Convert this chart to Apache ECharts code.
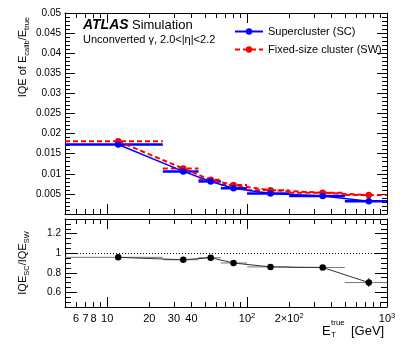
<!DOCTYPE html>
<html>
<head>
<meta charset="utf-8">
<script src="https://cdn.jsdelivr.net/npm/echarts@6/dist/echarts.min.js"></script>
<style>
  html, body { margin: 0; padding: 0; background: #fff; }
  #chart { width: 407px; height: 344px; }
</style>
</head>
<body>
<div id="chart"></div>
<script>
// bins in E_T^true [GeV]
const binEdges = [5, 25, 45, 65, 100, 200, 500, 1000]
const etPoints = [12, 35, 55, 80, 147, 347, 741]
// IQE of E_calib/E_true
const iqeSC = [0.0173, 0.0106, 0.0081, 0.0064, 0.0051, 0.0045, 0.0032]
const iqeSW = [0.0181, 0.0113, 0.0085, 0.0072, 0.0059, 0.0053, 0.0047]
// ratio SC / SW
const ratio = [0.958, 0.933, 0.954, 0.900, 0.860, 0.854, 0.700]
const ratioErr = [0.008, 0.008, 0.008, 0.008, 0.008, 0.01, 0.045]
// tick labels
const xLabelValues = [6, 7, 8, 10, 20, 30, 40, 100, 200, 1000]
const xMajorTicks = [10, 100, 1000]
const xMinorTicks = [5, 6, 7, 8, 9, 20, 30, 40, 50, 60, 70, 80, 90, 200, 300, 400, 500, 600, 700, 800, 900]
const yRatioLabels = [0.6, 0.8, 1, 1.2]

const FONT = 'Liberation Sans'
const BLUE = '#0000ff'
const RED = '#ff0000'
const lg = v => Math.log10(v)
const XMIN = lg(5)
const XMAX = 3

function xAxisDef (grid, pos, major, labels) {
  return {
    type: 'value',
    gridIndex: grid,
    position: pos,
    min: XMIN,
    max: XMAX,
    splitLine: { show: false },
    axisLine: { show: major, onZero: false, lineStyle: { color: '#000', width: 1 } },
    axisTick: {
      show: true,
      inside: true,
      length: major ? 10 : 5,
      lineStyle: { color: '#000', width: 1 },
      customValues: (major ? xMajorTicks : xMinorTicks).map(lg)
    },
    axisLabel: labels ? {
      show: true,
      customValues: xLabelValues.map(lg),
      margin: 5,
      color: '#000',
      fontFamily: FONT,
      fontSize: 11,
      formatter: function (v) {
        const n = Math.round(Math.pow(10, v))
        if (n === 100) return '10{s|2}'
        if (n === 200) return '2×10{s|2}'
        if (n === 1000) return '10{s|3}'
        return String(n)
      },
      rich: {
        s: { fontSize: 7.5, fontFamily: FONT, color: '#000', verticalAlign: 'top' }
      },
      lineHeight: 14
    } : { show: false }
  }
}

function binBars (values, lo, hi) {
  return values.map((v, i) => [lg(lo[i]), lg(hi[i]), v])
}
const binLo = binEdges.slice(0, -1)
const binHi = binEdges.slice(1)

function barRender (color, width, dash) {
  return function (params, api) {
    const p1 = api.coord([api.value(0), api.value(2)])
    const p2 = api.coord([api.value(1), api.value(2)])
    return {
      type: 'line',
      shape: { x1: p1[0], y1: p1[1], x2: p2[0], y2: p2[1] },
      style: { stroke: color, lineWidth: width, lineDash: dash }
    }
  }
}

const chart = echarts.init(document.getElementById('chart'), null, { renderer: 'canvas' })
chart.setOption({
  animation: false,
  backgroundColor: '#fff',
  grid: [
    { left: 65, width: 322, top: 13, height: 201 },
    { left: 65, width: 322, top: 219, height: 88 }
  ],
  legend: {
    orient: 'vertical',
    left: 229,
    top: 21,
    itemWidth: 28,
    itemHeight: 8,
    itemGap: 7,
    textStyle: { fontFamily: FONT, fontSize: 11, color: '#000' },
    data: ['Supercluster (SC)', 'Fixed-size cluster (SW)']
  },
  xAxis: [
    xAxisDef(0, 'bottom', true, false),
    xAxisDef(0, 'bottom', false, false),
    xAxisDef(0, 'top', true, false),
    xAxisDef(0, 'top', false, false),
    xAxisDef(1, 'bottom', true, true),
    xAxisDef(1, 'bottom', false, false),
    xAxisDef(1, 'top', true, false),
    xAxisDef(1, 'top', false, false)
  ],
  yAxis: [
    {
      type: 'value', gridIndex: 0, position: 'left', min: 0, max: 0.05, interval: 0.005,
      splitLine: { show: false },
      axisLine: { show: true, lineStyle: { color: '#000' } },
      axisTick: { inside: true, length: 10, lineStyle: { color: '#000' } },
      minorTick: { show: true, splitNumber: 5, length: 5, lineStyle: { color: '#000' } },
      axisLabel: {
        margin: 4, color: '#000', fontFamily: FONT, fontSize: 10,
        formatter: v => v === 0 ? '' : String(+v.toFixed(3))
      }
    },
    {
      type: 'value', gridIndex: 0, position: 'right', min: 0, max: 0.05, interval: 0.005,
      splitLine: { show: false },
      axisLine: { show: true, lineStyle: { color: '#000' } },
      axisTick: { inside: true, length: 10, lineStyle: { color: '#000' } },
      minorTick: { show: true, splitNumber: 5, length: 5, lineStyle: { color: '#000' } },
      axisLabel: { show: false }
    },
    {
      type: 'value', gridIndex: 1, position: 'left', min: 0.45, max: 1.35,
      splitLine: { show: false },
      axisLine: { show: true, lineStyle: { color: '#000' } },
      axisTick: { inside: true, length: 12, lineStyle: { color: '#000' }, customValues: yRatioLabels },
      axisLabel: {
        margin: 4, color: '#000', fontFamily: FONT, fontSize: 10,
        customValues: yRatioLabels
      }
    },
    {
      type: 'value', gridIndex: 1, position: 'left', min: 0.45, max: 1.35, interval: 0.05,
      splitLine: { show: false },
      axisLine: { show: false },
      axisTick: { inside: true, length: 6, lineStyle: { color: '#000' } },
      axisLabel: { show: false }
    },
    {
      type: 'value', gridIndex: 1, position: 'right', min: 0.45, max: 1.35,
      splitLine: { show: false },
      axisLine: { show: true, lineStyle: { color: '#000' } },
      axisTick: { inside: true, length: 12, lineStyle: { color: '#000' }, customValues: yRatioLabels },
      axisLabel: { show: false }
    },
    {
      type: 'value', gridIndex: 1, position: 'right', min: 0.45, max: 1.35, interval: 0.05,
      splitLine: { show: false },
      axisLine: { show: false },
      axisTick: { inside: true, length: 6, lineStyle: { color: '#000' } },
      axisLabel: { show: false }
    }
  ],
  series: [
    {
      type: 'custom', xAxisIndex: 0, yAxisIndex: 0, z: 3,
      encode: { x: [0, 1], y: 2 },
      renderItem: barRender(RED, 2, [5, 3]),
      data: binBars(iqeSW, binLo, binHi)
    },
    {
      type: 'custom', xAxisIndex: 0, yAxisIndex: 0, z: 4,
      encode: { x: [0, 1], y: 2 },
      renderItem: barRender(BLUE, 2.5, null),
      data: binBars(iqeSC, binLo, binHi)
    },
    {
      name: 'Fixed-size cluster (SW)',
      type: 'line', xAxisIndex: 0, yAxisIndex: 0, z: 5,
      symbol: 'circle', symbolSize: 6.5,
      itemStyle: { color: RED },
      lineStyle: { color: RED, width: 2, type: [5, 3] },
      data: etPoints.map((x, i) => [lg(x), iqeSW[i]])
    },
    {
      name: 'Supercluster (SC)',
      type: 'line', xAxisIndex: 0, yAxisIndex: 0, z: 6,
      symbol: 'circle', symbolSize: 6.5,
      itemStyle: { color: BLUE },
      lineStyle: { color: BLUE, width: 1.5 },
      data: etPoints.map((x, i) => [lg(x), iqeSC[i]])
    },
    {
      type: 'custom', xAxisIndex: 4, yAxisIndex: 2, z: 3,
      encode: { x: [0, 1], y: 2 },
      renderItem: function (params, api) {
        const y = api.value(2)
        const xc = api.value(3)
        const e = api.value(4)
        const p1 = api.coord([api.value(0), y])
        const p2 = api.coord([api.value(1), y])
        const q1 = api.coord([xc, y - e])
        const q2 = api.coord([xc, y + e])
        return {
          type: 'group',
          children: [
            { type: 'line', shape: { x1: p1[0], y1: p1[1], x2: p2[0], y2: p2[1] }, style: { stroke: '#777', lineWidth: 1 } },
            { type: 'line', shape: { x1: q1[0], y1: q1[1], x2: q2[0], y2: q2[1] }, style: { stroke: '#333', lineWidth: 1 } }
          ]
        }
      },
      data: ratio.map((r, i) => [lg(binLo[i]), lg(binHi[i]), r, lg(etPoints[i]), ratioErr[i]])
    },
    {
      type: 'line', xAxisIndex: 4, yAxisIndex: 2, z: 5,
      symbol: 'circle', symbolSize: 6.5,
      itemStyle: { color: '#000' },
      lineStyle: { color: '#333', width: 1 },
      data: etPoints.map((x, i) => [lg(x), ratio[i]]),
      markLine: {
        silent: true,
        symbol: ['none', 'none'],
        label: { show: false },
        lineStyle: { color: '#000', width: 1, type: [1, 2] },
        data: [{ yAxis: 1 }]
      }
    }
  ],
  graphic: [
    {
      type: 'text', left: 83, top: 18,
      style: {
        text: '{b|ATLAS} {n|Simulation}',
        rich: {
          b: { fontFamily: FONT, fontSize: 14, fontWeight: 'bold', fontStyle: 'italic', fill: '#000' },
          n: { fontFamily: FONT, fontSize: 13, fill: '#000' }
        }
      }
    },
    {
      type: 'text', left: 83, top: 34,
      style: { text: 'Unconverted γ, 2.0<|η|<2.2', fontFamily: FONT, fontSize: 11, fill: '#000' }
    },
    {
      type: 'text', x: 23, y: 17, rotation: Math.PI / 2,
      style: {
        text: 'IQE of E{s|calib}/E{s|true}',
        fontFamily: FONT, fontSize: 11, lineHeight: 15, fill: '#000',
        align: 'right', verticalAlign: 'middle',
        rich: { s: { fontFamily: FONT, fontSize: 7.5, fill: '#000', verticalAlign: 'bottom' } }
      }
    },
    {
      type: 'text', x: 23, y: 263, rotation: Math.PI / 2,
      style: {
        text: 'IQE{s|SC}/IQE{s|SW}',
        fontFamily: FONT, fontSize: 11, lineHeight: 15, fill: '#000',
        align: 'center', verticalAlign: 'middle',
        rich: { s: { fontFamily: FONT, fontSize: 7.5, fill: '#000', verticalAlign: 'bottom' } }
      }
    },
    {
      type: 'text', x: 322, y: 331,
      style: { text: 'E', fontFamily: FONT, fontSize: 13, fill: '#000', verticalAlign: 'middle' }
    },
    {
      type: 'text', x: 331, y: 323,
      style: { text: 'true', fontFamily: FONT, fontSize: 8, fill: '#000', verticalAlign: 'middle' }
    },
    {
      type: 'text', x: 331, y: 335,
      style: { text: 'T', fontFamily: FONT, fontSize: 8, fill: '#000', verticalAlign: 'middle' }
    },
    {
      type: 'text', x: 351, y: 331,
      style: { text: '[GeV]', fontFamily: FONT, fontSize: 13, fill: '#000', verticalAlign: 'middle' }
    }
  ]
})
</script>
</body>
</html>
